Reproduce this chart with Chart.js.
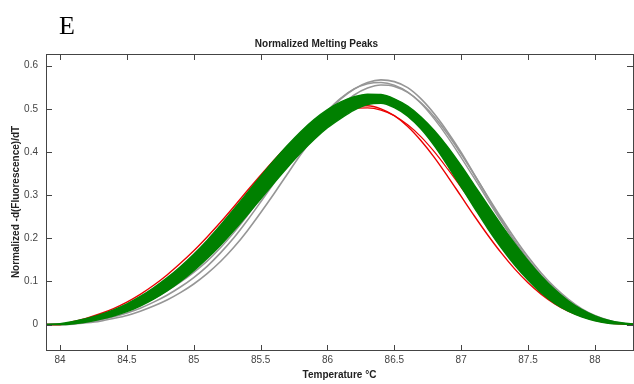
<!DOCTYPE html>
<html>
<head>
<meta charset="utf-8">
<script src="https://cdn.jsdelivr.net/npm/chart.js@4"></script>
<style>
  html, body { margin: 0; padding: 0; background: #fff; }
  #wrap { position: relative; width: 634px; height: 384px; }
</style>
</head>
<body>
<div id="wrap"><canvas id="myChart" width="634" height="384"></canvas></div>
<script>
// temperaturas (eixo x) e as curvas
var temperaturas = [83.9, 84.0, 84.1, 84.2, 84.3, 84.4, 84.5, 84.6, 84.7, 84.8, 84.9,
  85.0, 85.1, 85.2, 85.3, 85.4, 85.5, 85.6, 85.7, 85.8, 85.9,
  86.0, 86.1, 86.2, 86.3, 86.4, 86.5, 86.6, 86.7, 86.8, 86.9,
  87.0, 87.1, 87.2, 87.3, 87.4, 87.5, 87.6, 87.7, 87.8, 87.9,
  88.0, 88.1, 88.2, 88.3];

var cinzaA = [0, 0, 0.002, 0.006, 0.011, 0.018, 0.027, 0.038, 0.052, 0.068, 0.087,
  0.109, 0.135, 0.166, 0.201, 0.241, 0.284, 0.328, 0.373, 0.416, 0.456,
  0.492, 0.523, 0.546, 0.561, 0.567, 0.563, 0.549, 0.523, 0.488, 0.446,
  0.399, 0.347, 0.294, 0.242, 0.193, 0.150, 0.112, 0.080, 0.054, 0.034,
  0.019, 0.009, 0.003, 0];
var cinzaB = [0, 0, 0.001, 0.004, 0.008, 0.014, 0.021, 0.031, 0.043, 0.057, 0.074,
  0.094, 0.118, 0.146, 0.179, 0.217, 0.259, 0.303, 0.349, 0.394, 0.436,
  0.474, 0.507, 0.532, 0.548, 0.555, 0.552, 0.538, 0.514, 0.481, 0.441,
  0.395, 0.346, 0.296, 0.247, 0.200, 0.157, 0.119, 0.086, 0.059, 0.037,
  0.021, 0.010, 0.003, 0];
var cinzaC = [0, 0, 0.003, 0.008, 0.014, 0.022, 0.032, 0.045, 0.060, 0.078, 0.098,
  0.121, 0.147, 0.178, 0.213, 0.252, 0.294, 0.338, 0.382, 0.424, 0.462,
  0.496, 0.525, 0.546, 0.558, 0.561, 0.555, 0.539, 0.512, 0.476, 0.434,
  0.387, 0.338, 0.288, 0.239, 0.193, 0.151, 0.114, 0.082, 0.056, 0.035,
  0.019, 0.008, 0.002, 0];

var vermelhoA = [0, 0, 0.007, 0.015, 0.025, 0.037, 0.052, 0.070, 0.091, 0.115, 0.142,
  0.171, 0.203, 0.237, 0.273, 0.310, 0.346, 0.381, 0.413, 0.441, 0.465,
  0.484, 0.498, 0.506, 0.507, 0.500, 0.484, 0.459, 0.426, 0.387, 0.343,
  0.297, 0.251, 0.207, 0.166, 0.129, 0.097, 0.070, 0.048, 0.031, 0.019,
  0.010, 0.004, 0.001, 0];
var vermelhoB = [0, 0, 0.004, 0.011, 0.020, 0.031, 0.045, 0.061, 0.080, 0.101, 0.125,
  0.151, 0.181, 0.214, 0.250, 0.288, 0.326, 0.363, 0.398, 0.430, 0.457,
  0.478, 0.493, 0.501, 0.502, 0.497, 0.484, 0.463, 0.435, 0.400, 0.360,
  0.318, 0.275, 0.233, 0.194, 0.158, 0.125, 0.095, 0.069, 0.047, 0.029,
  0.016, 0.007, 0.002, 0];

// faixa verde: borda de cima e borda de baixo
var verdeAlto = [0, 0.002, 0.007, 0.014, 0.023, 0.034, 0.048, 0.065, 0.085, 0.108, 0.134,
  0.163, 0.195, 0.230, 0.267, 0.305, 0.343, 0.380, 0.415, 0.447, 0.475,
  0.498, 0.516, 0.528, 0.534, 0.533, 0.523, 0.506, 0.481, 0.449, 0.411,
  0.368, 0.322, 0.276, 0.231, 0.188, 0.148, 0.112, 0.081, 0.055, 0.035,
  0.020, 0.010, 0.004, 0.001];
var verdeBaixo = [0, 0, 0.002, 0.006, 0.012, 0.020, 0.030, 0.043, 0.059, 0.078, 0.100,
  0.125, 0.153, 0.184, 0.218, 0.254, 0.291, 0.328, 0.364, 0.398, 0.429,
  0.456, 0.478, 0.497, 0.510, 0.513, 0.503, 0.483, 0.453, 0.414, 0.368,
  0.319, 0.270, 0.222, 0.178, 0.138, 0.103, 0.073, 0.049, 0.031, 0.018,
  0.009, 0.003, 0.001, 0];

var ticksX = [84, 84.5, 85, 85.5, 86, 86.5, 87, 87.5, 88];
var ticksY = [0, 0.1, 0.2, 0.3, 0.4, 0.5, 0.6];

var fonte = "'Liberation Sans', Arial, sans-serif";

function pontos(lista) {
  var saida = [];
  for (var i = 0; i < temperaturas.length; i++) {
    saida.push({ x: temperaturas[i], y: lista[i] });
  }
  return saida;
}

function curva(lista, cor, largura, ordem) {
  return {
    data: pontos(lista),
    borderColor: cor,
    borderWidth: largura,
    pointRadius: 0,
    fill: false,
    cubicInterpolationMode: 'monotone',
    order: ordem
  };
}

var verde = 'rgb(0,128,0)';
var cinza = 'rgb(150,150,150)';
var vermelho = 'rgb(235,0,0)';

// verde por cima de tudo (order menor = desenhado por ultimo)
var dsVerdeAlto = curva(verdeAlto, verde, 1.5, 1);
dsVerdeAlto.fill = '+1';
dsVerdeAlto.backgroundColor = verde;
var dsVerdeBaixo = curva(verdeBaixo, verde, 1.5, 1);

// marcas dos ticks para dentro (estilo matlab) + caixa + letra E
var molduraPlugin = {
  id: 'moldura',
  afterDraw: function (chart) {
    var ctx = chart.ctx;
    var a = chart.chartArea;
    var sx = chart.scales.x, sy = chart.scales.y;
    ctx.save();
    ctx.strokeStyle = '#444';
    ctx.lineWidth = 1;
    ctx.strokeRect(a.left + 0.5, a.top + 0.5, a.right - a.left, a.bottom - a.top);
    ctx.beginPath();
    ticksX.forEach(function (v) {
      var px = Math.round(sx.getPixelForValue(v)) + 0.5;
      ctx.moveTo(px, a.bottom); ctx.lineTo(px, a.bottom - 5);
      ctx.moveTo(px, a.top); ctx.lineTo(px, a.top + 6);
    });
    ticksY.forEach(function (v) {
      var py = Math.round(sy.getPixelForValue(v)) + 0.5;
      ctx.moveTo(a.left, py); ctx.lineTo(a.left + 6, py);
      ctx.moveTo(a.right, py); ctx.lineTo(a.right - 6, py);
    });
    ctx.stroke();
    ctx.fillStyle = '#000';
    ctx.font = "26px 'Liberation Serif', 'Times New Roman', serif";
    ctx.textBaseline = 'alphabetic';
    ctx.fillText('E', 59, 34);
    ctx.restore();
  }
};

var Grafico = new Chart(document.getElementById('myChart'), {
  type: 'line',
  data: {
    datasets: [
      curva(cinzaA, cinza, 1.6, 4),
      curva(cinzaB, cinza, 1.6, 4),
      curva(cinzaC, cinza, 1.4, 4),
      dsVerdeAlto,
      dsVerdeBaixo,
      curva(vermelhoA, vermelho, 1.4, 3),
      curva(vermelhoB, vermelho, 1.2, 3)
    ]
  },
  options: {
    responsive: false,
    animation: false,
    layout: { padding: { top: 0, right: 1, left: 0, bottom: 0 } },
    plugins: {
      legend: { display: false },
      tooltip: { enabled: false },
      title: {
        display: true,
        text: 'Normalized Melting Peaks',
        color: '#222',
        font: { family: fonte, size: 10, weight: 'bold', lineHeight: '13px' },
        padding: { top: 38, bottom: 3 }
      }
    },
    scales: {
      x: {
        type: 'linear',
        min: 83.895,
        max: 88.285,
        afterFit: function (s) { s.height = 34; },
        afterBuildTicks: function (s) { s.ticks = ticksX.map(function (v) { return { value: v }; }); },
        grid: { display: false, drawTicks: false },
        border: { display: false },
        ticks: {
          color: '#444',
          font: { family: fonte, size: 10 },
          padding: 4,
          maxRotation: 0,
          autoSkip: false,
          callback: function (v) { return String(v); }
        },
        title: {
          display: true,
          text: 'Temperature °C',
          color: '#222',
          font: { family: fonte, size: 10, weight: 'bold', lineHeight: '13px' },
          padding: { top: 0, bottom: 2 }
        }
      },
      y: {
        type: 'linear',
        min: -0.059,
        max: 0.627,
        afterFit: function (s) { s.width = 46; },
        afterBuildTicks: function (s) { s.ticks = ticksY.map(function (v) { return { value: v }; }); },
        grid: { display: false, drawTicks: false },
        border: { display: false },
        ticks: {
          color: '#444',
          font: { family: fonte, size: 10 },
          padding: 8,
          autoSkip: false,
          callback: function (v) { return String(v); }
        },
        title: {
          display: true,
          text: 'Normalized -d(Fluorescence)/dT',
          color: '#222',
          font: { family: fonte, size: 10, weight: 'bold', lineHeight: '13px' },
          padding: { top: 10, bottom: 0 }
        }
      }
    }
  },
  plugins: [molduraPlugin]
});
</script>
</body>
</html>
